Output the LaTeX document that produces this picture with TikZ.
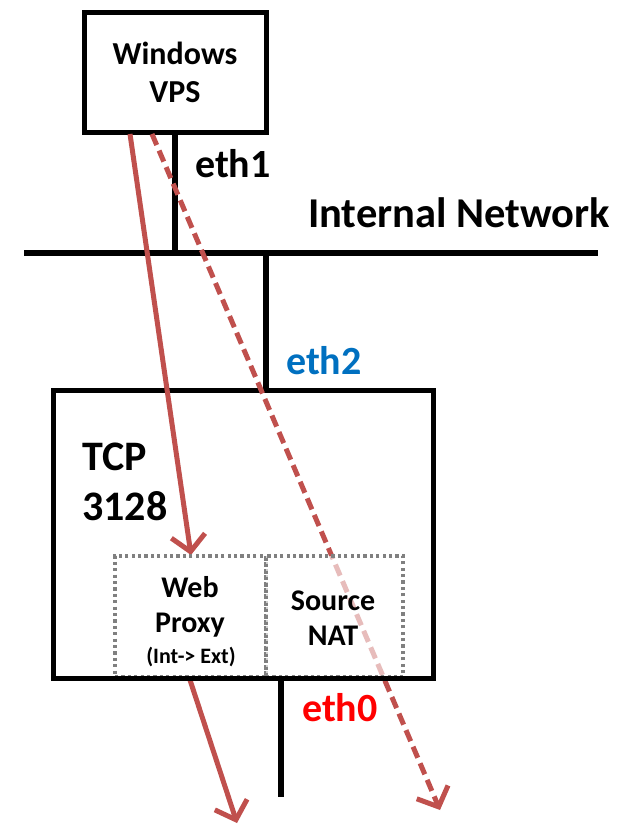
\documentclass[tikz,border=0pt]{standalone}
\usepackage{fontspec}
\setmainfont{Carlito}
\usetikzlibrary{arrows.meta}
\definecolor{flow}{HTML}{C0504D}
\definecolor{ethblue}{HTML}{0070C0}
\definecolor{ethred}{HTML}{FF0000}
\begin{document}
\begin{tikzpicture}[x=1pt,y=-1pt,
  wire/.style={line width=5.5pt},
  hostbox/.style={draw,line width=5pt,rectangle,inner sep=0pt,outer sep=0pt},
  cellbox/.style={draw=gray,line width=3.4pt,dash pattern=on 3.2pt off 3.2pt,
                  fill=white,fill opacity=0.62,rectangle,inner sep=0pt,outer sep=0pt},
  lbl/.style={font=\bfseries,anchor=base,inner sep=0pt},
  flowline/.style={draw=flow,line width=5pt,
                   -{Straight Barb[length=16pt,width=34pt,line width=5pt]}},
  flowdash/.style={flowline,dash pattern=on 12pt off 6pt}]
\useasboundingbox (0,0) rectangle (628,826);

% hosts
\node[hostbox,minimum width=182pt,minimum height=120pt] (vps) at (175,73) {};
\node[hostbox,minimum width=380pt,minimum height=288pt] (gw) at (243,534) {};

% internal network bus and links
\coordinate (busL) at (24,253);
\coordinate (busR) at (598,253);
\coordinate (tapA) at (175,253);
\coordinate (tapB) at (266,253);
\coordinate (vpsS) at (175,133);
\coordinate (gwN) at (266,390);
\coordinate (gwS) at (281,678);
\coordinate (extEnd) at (281,797);
\draw[wire] (busL) -- (busR);
\draw[wire] (vpsS) -- (tapA);
\draw[wire] (tapB) -- (gwN);
\draw[wire] (gwS) -- (extEnd);

% traffic flows
\coordinate (pStart) at (130,134);
\coordinate (pTip) at (191,555);
\coordinate (pOut) at (190,680);
\coordinate (pEnd) at (237,823);
\coordinate (nStart) at (152,134);
\coordinate (nEnd) at (440,810);
\draw[flowline] (pStart) -- (pTip);
\draw[flowline] (pOut) -- (pEnd);
\draw[flowdash] (nStart) -- (nEnd);

% services inside the gateway
\node[cellbox,minimum width=151pt,minimum height=121pt] (proxy) at (190.5,616.5) {};
\node[cellbox,minimum width=137pt,minimum height=121pt] (snat) at (334.5,616.5) {};
\draw[line width=5pt] (gw.south west) -- (gw.south east);

% labels
\node[lbl,font=\bfseries\fontsize{32}{32}\selectfont] (t1) at (175,65) {Windows};
\node[lbl,font=\bfseries\fontsize{32}{32}\selectfont] (t2) at (175,103) {VPS};
\node[lbl,font=\bfseries\fontsize{40}{40}\selectfont,anchor=base west] (e1) at (195,178) {eth1};
\node[lbl,font=\bfseries\fontsize{42.5}{42.5}\selectfont,anchor=base west] (net) at (308,228) {Internal Network};
\node[lbl,font=\bfseries\fontsize{40}{40}\selectfont,anchor=base west,text=ethblue] (e2) at (286,374) {eth2};
\node[lbl,font=\bfseries\fontsize{42}{42}\selectfont,anchor=base west] (t3) at (82,470) {TCP};
\node[lbl,font=\bfseries\fontsize{42}{42}\selectfont,anchor=base west] (t4) at (82,520) {3128};
\node[lbl,font=\bfseries\fontsize{30}{30}\selectfont] (w1) at (190,597) {Web};
\node[lbl,font=\bfseries\fontsize{30}{30}\selectfont] (w2) at (190,632) {Proxy};
\node[lbl,font=\bfseries\fontsize{22}{22}\selectfont] (w3) at (191,663) {(Int-> Ext)};
\node[lbl,font=\bfseries\fontsize{30}{30}\selectfont] (s1) at (333,610) {Source};
\node[lbl,font=\bfseries\fontsize{30}{30}\selectfont] (s2) at (333,645) {NAT};
\node[lbl,font=\bfseries\fontsize{40}{40}\selectfont,anchor=base west,text=ethred] (e0) at (302,721) {eth0};
\end{tikzpicture}
\end{document}
